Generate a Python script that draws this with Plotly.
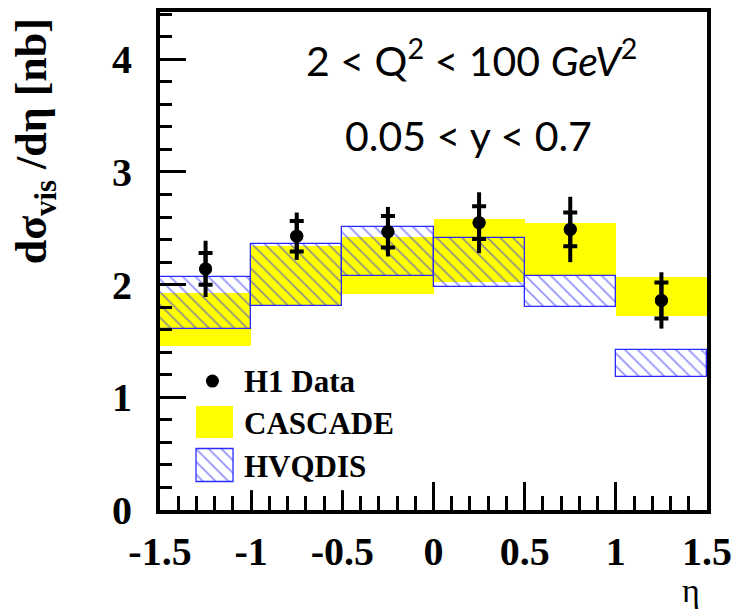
import plotly.graph_objects as go

# ---- data ----
bin_lo = [-1.5, -1.0, -0.5, 0.0, 0.5, 1.0]
bin_hi = [-1.0, -0.5, 0.0, 0.5, 1.0, 1.5]
eta = [-1.25, -0.75, -0.25, 0.25, 0.75, 1.25]
h1_val = [2.14, 2.43, 2.47, 2.55, 2.49, 1.86]
h1_stat = [0.14, 0.135, 0.14, 0.145, 0.15, 0.16]
h1_tot = [0.25, 0.21, 0.22, 0.27, 0.29, 0.25]
cascade_lo = [1.46, 1.81, 1.92, 2.02, 2.08, 1.72]
cascade_hi = [1.93, 2.34, 2.42, 2.58, 2.55, 2.07]
hvqdis_lo = [1.61, 1.81, 2.08, 1.98, 1.80, 1.18]
hvqdis_hi = [2.07, 2.36, 2.51, 2.41, 2.08, 1.42]
x_ticks = [-1.5, -1.0, -0.5, 0.0, 0.5, 1.0, 1.5]
x_ticktext = ["-1.5", "-1", "-0.5", "0", "0.5", "1", "1.5"]
y_ticks = [0, 1, 2, 3, 4]
legend_labels = ["H1 Data", "CASCADE", "HVQDIS"]

centers = [(a + b) / 2 for a, b in zip(bin_lo, bin_hi)]
widths = [b - a for a, b in zip(bin_lo, bin_hi)]

SERIF = "Liberation Serif"
YEL = "#ffff00"
BLUE = "#2a2aff"

fig = go.Figure()

fig.add_trace(go.Bar(
    x=centers, y=[h - l for l, h in zip(cascade_lo, cascade_hi)], base=cascade_lo,
    width=widths, marker=dict(color=YEL, line=dict(width=0)), showlegend=False,
    hoverinfo="skip"))
fig.add_trace(go.Bar(
    x=centers, y=[h - l for l, h in zip(hvqdis_lo, hvqdis_hi)], base=hvqdis_lo,
    width=widths,
    marker=dict(color="rgba(0,0,0,0)", line=dict(color=BLUE, width=1.3),
                pattern=dict(shape="\\", fgcolor=BLUE, bgcolor="rgba(0,0,0,0)",
                             size=9, solidity=0.2, fillmode="overlay")),
    showlegend=False, hoverinfo="skip"))
# total errors (line only)
fig.add_trace(go.Scatter(
    x=eta, y=h1_val, mode="markers",
    marker=dict(color="black", size=13),
    error_y=dict(type="data", array=h1_tot, color="black", thickness=4, width=0),
    showlegend=False))
# statistical errors (ticks)
fig.add_trace(go.Scatter(
    x=eta, y=h1_val, mode="markers",
    marker=dict(color="black", size=13),
    error_y=dict(type="data", array=h1_stat, color="black", thickness=4, width=7),
    showlegend=False))

# ---- manual legend on an inset axis (pixel-like units) ----
fig.add_trace(go.Scatter(x=[23], y=[110], mode="markers", marker=dict(color="black", size=13),
                         xaxis="x2", yaxis="y2", showlegend=False, hoverinfo="skip"))
fig.add_trace(go.Bar(x=[25], y=[33], base=[52], width=[37], xaxis="x2", yaxis="y2",
                     marker=dict(color=YEL, line=dict(width=0)), showlegend=False,
                     hoverinfo="skip"))
fig.add_trace(go.Bar(x=[25.5], y=[33], base=[8], width=[37], xaxis="x2", yaxis="y2",
                     marker=dict(color="rgba(0,0,0,0)", line=dict(color=BLUE, width=1.3),
                                 pattern=dict(shape="\\", fgcolor=BLUE, bgcolor="rgba(0,0,0,0)",
                                              size=9, solidity=0.2, fillmode="overlay")),
                     showlegend=False, hoverinfo="skip"))

W, H = 740, 613
L, R, T, B = 160, 27, 8, 103
pw, ph = W - L - R, H - T - B

def px(xpix):
    return (xpix - L) / pw

def py(ypix):
    return (H - B - ypix) / ph

annotations = []
for lab, yy in zip(legend_labels, [110, 67, 24]):
    annotations.append(dict(xref="x2", yref="y2", x=53, y=yy, text="<b>" + lab + "</b>",
                            showarrow=False, xanchor="left", yanchor="middle",
                            font=dict(family=SERIF, size=31, color="black")))

annotations += [
    dict(xref="paper", yref="paper", x=px(475), y=py(54),
         text="2 &lt; Q<sup>2</sup> &lt; 100 <i>GeV</i><sup>2</sup>", showarrow=False,
         xanchor="center", yanchor="middle", font=dict(family="Lato", size=41, color="black")),
    dict(xref="paper", yref="paper", x=px(472), y=py(132),
         text="0.05 &lt; y &lt; 0.7", showarrow=False,
         xanchor="center", yanchor="middle", font=dict(family="Lato", size=41, color="black")),
    dict(xref="paper", yref="paper", x=px(697), y=py(591), text="η", showarrow=False,
         xanchor="center", yanchor="middle", font=dict(family=SERIF, size=34, color="black")),
    dict(xref="paper", yref="paper", x=px(34), y=py(138),
         text="<b>dσ<sub>vis</sub> /dη [nb]</b>", showarrow=False, textangle=-90,
         xanchor="center", yanchor="middle", font=dict(family=SERIF, size=44, color="black")),
]

fig.update_layout(
    width=W, height=H,
    margin=dict(l=L, r=R, t=T, b=B, pad=0),
    paper_bgcolor="white", plot_bgcolor="white",
    barmode="overlay", bargap=0,
    showlegend=False,
    annotations=annotations,
    xaxis=dict(range=[-1.5, 1.5], tickvals=x_ticks, ticktext=x_ticktext,
               ticks="inside", ticklen=28, tickwidth=3, tickcolor="black",
               minor=dict(dtick=0.1, tick0=0, ticks="inside", ticklen=14, tickwidth=3,
                          tickcolor="black", showgrid=False),
               showline=True, linewidth=4, linecolor="black", mirror=True,
               showgrid=False, zeroline=False, ticklabelstandoff=3,
               tickfont=dict(family=SERIF, size=40, color="black", weight="bold")),
    yaxis=dict(range=[0, 4.42], tickvals=y_ticks, ticktext=[str(v) for v in y_ticks],
               ticks="inside", ticklen=26, tickwidth=3, tickcolor="black",
               minor=dict(dtick=0.2, tick0=0, ticks="inside", ticklen=12, tickwidth=3,
                          tickcolor="black", showgrid=False),
               showline=True, linewidth=4, linecolor="black", mirror=True,
               showgrid=False, zeroline=False, ticklabelstandoff=16,
               tickfont=dict(family=SERIF, size=40, color="black", weight="bold")),
    xaxis2=dict(domain=[px(190), px(420)], range=[0, 230], visible=False, anchor="y2",
                fixedrange=True),
    yaxis2=dict(domain=[py(490), py(365)], range=[0, 125], visible=False, anchor="x2",
                fixedrange=True),
)

fig.write_html("out.html")
